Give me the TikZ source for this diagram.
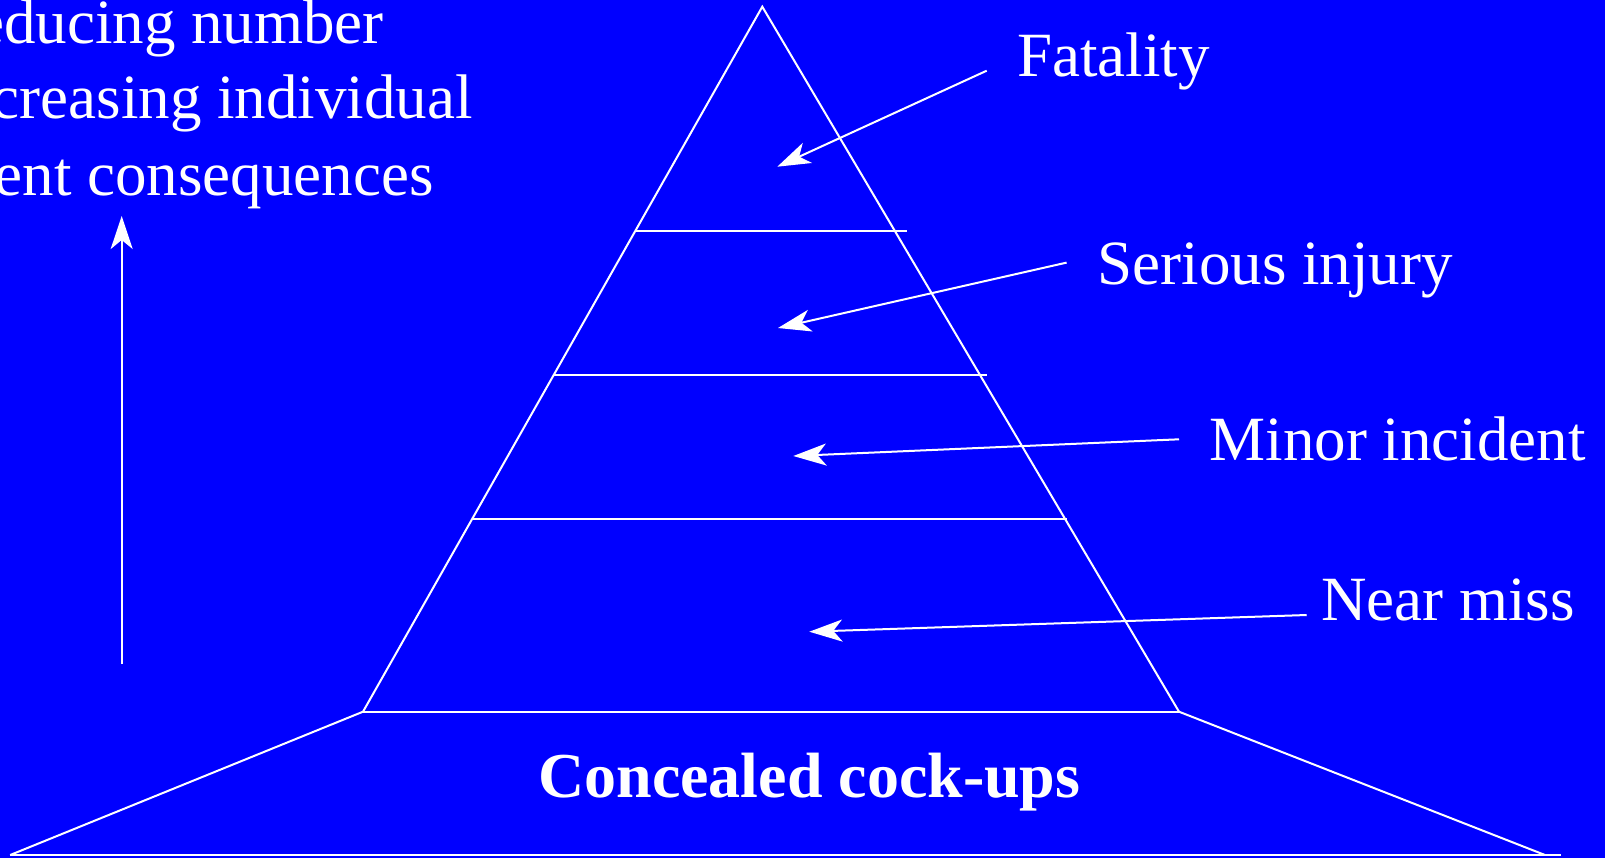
\documentclass[tikz,border=0pt]{standalone}
\usepackage{fontspec}
\setmainfont{Liberation Serif}
\usetikzlibrary{arrows.meta}
\definecolor{bg}{RGB}{0,0,255}
\begin{document}
\begin{tikzpicture}[x=1bp,y=-1bp,
  edge/.style={draw=white,line width=2bp},
  arr/.style={draw=white,line width=2bp,-{Stealth[length=33bp,width=22bp,inset=9bp]}},
  lbl/.style={text=white,font=\fontsize{63bp}{76bp}\selectfont,inner sep=0pt},
  lblw/.style={lbl,anchor=base west},
  lble/.style={lbl,anchor=base east}]
\fill[bg] (0,0) rectangle (1605,858);
\useasboundingbox (0,0) rectangle (1605,858);
% pyramid
\coordinate (apex) at (762.3,6.7);
\coordinate (bl) at (363,711.7);
\coordinate (br) at (1179,711.7);
\coordinate (gl) at (10.2,855);
\coordinate (gr) at (1545,855);
\coordinate (ge) at (1561,855);
\coordinate (h1l) at (635.3,231);
\coordinate (h1r) at (907,231);
\coordinate (h2l) at (553.7,375);
\coordinate (h2r) at (987,375);
\coordinate (h3l) at (472.1,519);
\coordinate (h3r) at (1066.6,519);
\draw[edge] (bl) -- (apex) -- (br);
\draw[edge] (bl) -- (br);
\draw[edge] (h1l) -- (h1r);
\draw[edge] (h2l) -- (h2r);
\draw[edge] (h3l) -- (h3r);
\draw[edge] (bl) -- (gl);
\draw[edge] (br) -- (gr);
\draw[edge] (gl) -- (ge);
% labels
\node[lblw] (fat) at (1017,76) {Fatality};
\node[lblw] (ser) at (1097.5,284) {Serious injury};
\node[lblw] (min) at (1209.5,460) {Minor incident};
\node[lblw] (near) at (1321,620) {Near miss};
\node[lblw,font=\fontsize{64bp}{76bp}\selectfont\bfseries] (conc) at (538,797) {Concealed cock-ups};
\node[lble] (t1) at (384,43.3) {educing number};
\node[lble] (t2) at (473,118.3) {creasing individual};
\node[lble] (t3) at (434,195) {ent consequences};
% arrows
\coordinate (fs) at (986.7,70.7);
\coordinate (ft) at (777.3,166.7);
\coordinate (ss) at (1066.6,262.6);
\coordinate (st) at (778,328);
\coordinate (ms) at (1179,439.3);
\coordinate (mt) at (793.3,456);
\coordinate (ns) at (1306.7,615);
\coordinate (nt) at (809.3,631.7);
\coordinate (vs) at (121.7,664);
\coordinate (vt) at (121.7,216);
\draw[arr] (fs) -- (ft);
\draw[arr] (ss) -- (st);
\draw[arr] (ms) -- (mt);
\draw[arr] (ns) -- (nt);
\draw[arr] (vs) -- (vt);
\end{tikzpicture}
\end{document}
